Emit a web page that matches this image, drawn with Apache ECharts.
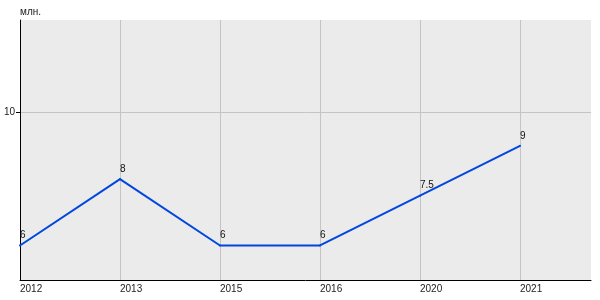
<!DOCTYPE html>
<html><head><meta charset="utf-8">
<script src="https://cdn.jsdelivr.net/npm/echarts@6/dist/echarts.min.js"></script>
<style>html,body{margin:0;padding:0;background:#fff}#c{width:600px;height:300px}</style>
</head><body><div id="c"></div>
<script>
const years = ['2012','2013','2015','2016','2020','2021'];
const values = [6, 8, 6, 6, 7.5, 9];
const yTicks = [10];
const unit = 'млн.';

const chart = echarts.init(document.getElementById('c'), null, {renderer:'canvas'});
const idx = years.map((_, i) => i);
chart.setOption({
  animation: false,
  grid: {left: 20, top: 20, right: 9, bottom: 20, show: true, backgroundColor: '#ebebeb', borderWidth: 0},
  xAxis: {
    type: 'value', min: 0, max: 5.71,
    axisLine: {show: true, lineStyle: {color: '#000', width: 1}},
    axisTick: {show: false, customValues: idx},
    splitLine: {show: true, lineStyle: {color: '#c4c4c4', width: 1}},
    axisLabel: {customValues: idx, formatter: v => years[Math.round(v)] || '', align: 'left',
      color: '#222', fontFamily: 'Liberation Sans, Arial', fontSize: 10, margin: 4}
  },
  yAxis: {
    type: 'value', min: 4.96, max: 12.79,
    name: unit, nameLocation: 'end', nameGap: 3,
    nameTextStyle: {align: 'left', color: '#222', fontFamily: 'Liberation Sans, Arial', fontSize: 10, padding: [0,0,0,0]},
    axisLine: {show: true, lineStyle: {color: '#000', width: 1}},
    axisTick: {show: true, length: 4, customValues: yTicks, lineStyle: {color: '#000'}},
    splitLine: {show: true, lineStyle: {color: '#c4c4c4', width: 1}},
    axisLabel: {customValues: yTicks, color: '#222', fontFamily: 'Liberation Sans, Arial', fontSize: 10, margin: 5}
  },
  series: [{
    type: 'line',
    data: values.map((v, i) => [i, v]),
    symbol: 'circle', symbolSize: 2,
    itemStyle: {color: '#0047e0'},
    lineStyle: {color: '#0047e0', width: 2},
    label: {show: true, position: 'top', distance: 4, align: 'left',
      color: '#111', fontFamily: 'Liberation Sans, Arial', fontSize: 10,
      formatter: p => String(p.value[1])}
  }]
});
</script></body></html>
